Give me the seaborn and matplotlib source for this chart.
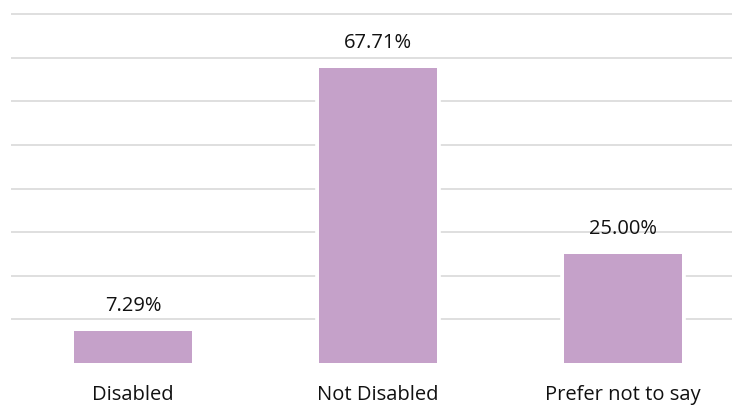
import matplotlib
matplotlib.use("Agg")
import matplotlib.pyplot as plt
import matplotlib.patheffects as pe
import seaborn as sns
import pandas as pd

categories = ["Disabled", "Not Disabled", "Prefer not to say"]
values = [7.29, 67.71, 25.00]
bar_color = "#C5A1C9"

df = pd.DataFrame({"category": categories, "share": values})

sns.set_theme(style="white")
plt.rcParams["font.family"] = ["Open Sans", "DejaVu Sans"]

W, H = 732, 405
fig = plt.figure(figsize=(W / 100, H / 100), dpi=100)
# axes in pixel terms: left edge 10.5 px, bottom at 42 px, 4.3625 px per percent
px_per_unit = 349 / 80
ymax = 82
ax = fig.add_axes([10.5 / W, 42 / H, (W - 10.5) / W, ymax * px_per_unit / H])

sns.barplot(data=df, x="category", y="share", color=bar_color, width=0.48,
            saturation=1, ax=ax, zorder=3)

# white halo around each bar so the gridlines stop short of it
for patch in ax.patches:
    patch.set_edgecolor("none")
    patch.set_path_effects([pe.Stroke(linewidth=5.5, foreground="white"), pe.Normal()])

for i, v in enumerate(values):
    ax.annotate(f"{v:.2f}%", (i, v), xytext=(0, 20), textcoords="offset pixels",
                ha="center", va="baseline", fontsize=14.5, color="#111111", zorder=4)

ax.set_xlim(-0.5, -0.5 + (W - 10.5) / 245)
ax.set_ylim(0, ymax)
ax.set_yticks(range(10, 90, 10))
ax.yaxis.grid(True, color="#D9D9D9", linewidth=1.2, zorder=0)
ax.set_axisbelow(True)
ax.tick_params(axis="y", labelleft=False, length=0)
ax.tick_params(axis="x", length=0, pad=15.5, labelsize=14.5, labelcolor="#111111")
ax.set_xlabel("")
ax.set_ylabel("")
sns.despine(ax=ax, left=True, bottom=True)

fig.savefig("out.png", dpi=100)
